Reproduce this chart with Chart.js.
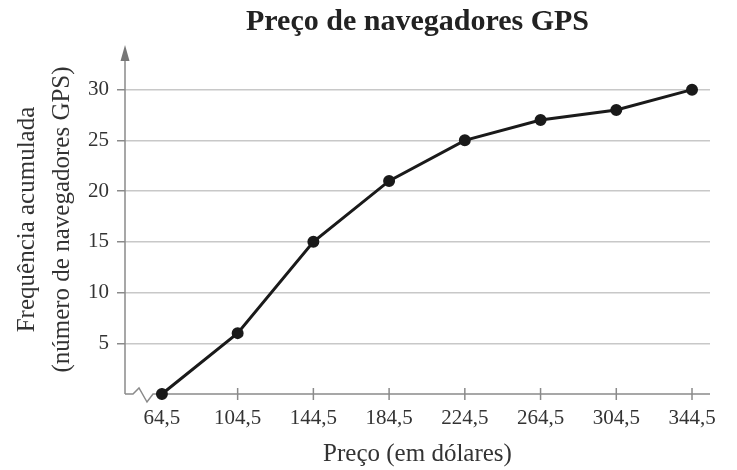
<!DOCTYPE html>
<html>
<head>
<meta charset="utf-8">
<script src="https://cdn.jsdelivr.net/npm/chart.js@4"></script>
<style>
  html, body { margin: 0; padding: 0; background: #fff; }
  #wrap { width: 737px; height: 470px; }
</style>
</head>
<body>
<div id="wrap"><canvas id="ogive"></canvas></div>
<script>
const prices = [64.5, 104.5, 144.5, 184.5, 224.5, 264.5, 304.5, 344.5];
const cumFreq = [0, 6, 15, 21, 25, 27, 28, 30];
const xTickLabels = ['64,5', '104,5', '144,5', '184,5', '224,5', '264,5', '304,5', '344,5'];
const yTicks = [5, 10, 15, 20, 25, 30];

const serif = '"Liberation Serif", "DejaVu Serif", serif';
const axisGray = '#8a8a8a';

// axis lines, arrow, break mark and crossing x ticks (under the line)
const axesPlugin = {
  id: 'axesDeco',
  beforeDatasetsDraw(chart) {
    const ctx = chart.ctx;
    const xs = chart.scales.x, ys = chart.scales.y;
    const x0 = xs.left, y0 = ys.getPixelForValue(0);
    const top = chart.chartArea.top;
    ctx.save();
    ctx.strokeStyle = axisGray;
    ctx.lineWidth = 1.5;
    // y axis
    ctx.beginPath();
    ctx.moveTo(x0, y0);
    ctx.lineTo(x0, top + 12);
    ctx.stroke();
    ctx.fillStyle = '#777';
    ctx.beginPath();
    ctx.moveTo(x0, top);
    ctx.lineTo(x0 - 4.5, top + 16);
    ctx.lineTo(x0 + 4.5, top + 16);
    ctx.closePath();
    ctx.fill();
    // x axis with break
    ctx.beginPath();
    ctx.moveTo(x0, y0);
    ctx.lineTo(x0 + 8, y0);
    ctx.lineTo(x0 + 14, y0 - 6);
    ctx.lineTo(x0 + 22, y0 + 8);
    ctx.lineTo(x0 + 28, y0);
    ctx.lineTo(xs.right, y0);
    ctx.stroke();
    // x ticks crossing the axis
    prices.forEach(p => {
      const px = xs.getPixelForValue(p);
      ctx.beginPath();
      ctx.moveTo(px, y0 - 6);
      ctx.lineTo(px, y0 + 6);
      ctx.stroke();
    });
    ctx.restore();
  }
};

new Chart(document.getElementById('ogive'), {
  type: 'line',
  data: {
    datasets: [{
      label: 'Frequência acumulada',
      data: prices.map((p, i) => ({x: p, y: cumFreq[i]})),
      borderColor: '#1a1a1a',
      backgroundColor: '#1a1a1a',
      borderWidth: 3,
      pointRadius: 4.5,
      pointHoverRadius: 4.5,
      tension: 0,
      clip: false
    }]
  },
  options: {
    responsive: true,
    maintainAspectRatio: false,
    animation: false,
    layout: {padding: {left: 0, right: 27, top: 0, bottom: 0}},
    plugins: {
      legend: {display: false},
      tooltip: {enabled: false},
      title: {
        display: true,
        text: 'Preço de navegadores GPS',
        fullSize: false,
        color: '#222',
        font: {family: serif, size: 30, weight: 'bold', lineHeight: 1.2},
        padding: {top: 4, bottom: 5}
      }
    },
    scales: {
      x: {
        type: 'linear',
        min: 45,
        max: 354,
        afterBuildTicks: (scale) => { scale.ticks = prices.map(v => ({value: v})); },
        afterFit: (scale) => { scale.height = 76; },
        ticks: {
          autoSkip: false,
          maxRotation: 0,
          padding: 12,
          color: '#333',
          font: {family: serif, size: 21},
          callback: (value, i) => xTickLabels[i]
        },
        grid: {drawOnChartArea: false, drawTicks: false},
        border: {display: false},
        title: {
          display: true,
          text: 'Preço (em dólares)',
          color: '#333',
          font: {family: serif, size: 25, lineHeight: 1.2},
          padding: {top: 0, bottom: 1}
        }
      },
      y: {
        min: 0,
        max: 34.4,
        afterBuildTicks: (scale) => { scale.ticks = yTicks.map(v => ({value: v})); },
        afterFit: (scale) => { scale.width = 125; },
        ticks: {
          padding: 8,
          color: '#333',
          font: {family: serif, size: 21}
        },
        grid: {
          color: '#c8c8c8',
          lineWidth: 1.5,
          drawTicks: true,
          tickLength: 8,
          tickColor: axisGray
        },
        border: {display: false},
        title: {
          display: true,
          text: ['Frequência acumulada', '(número de navegadores GPS)'],
          color: '#333',
          font: {family: serif, size: 25, lineHeight: 1.4},
          padding: {top: 10, bottom: 0}
        }
      }
    }
  },
  plugins: [axesPlugin]
});
</script>
</body>
</html>
